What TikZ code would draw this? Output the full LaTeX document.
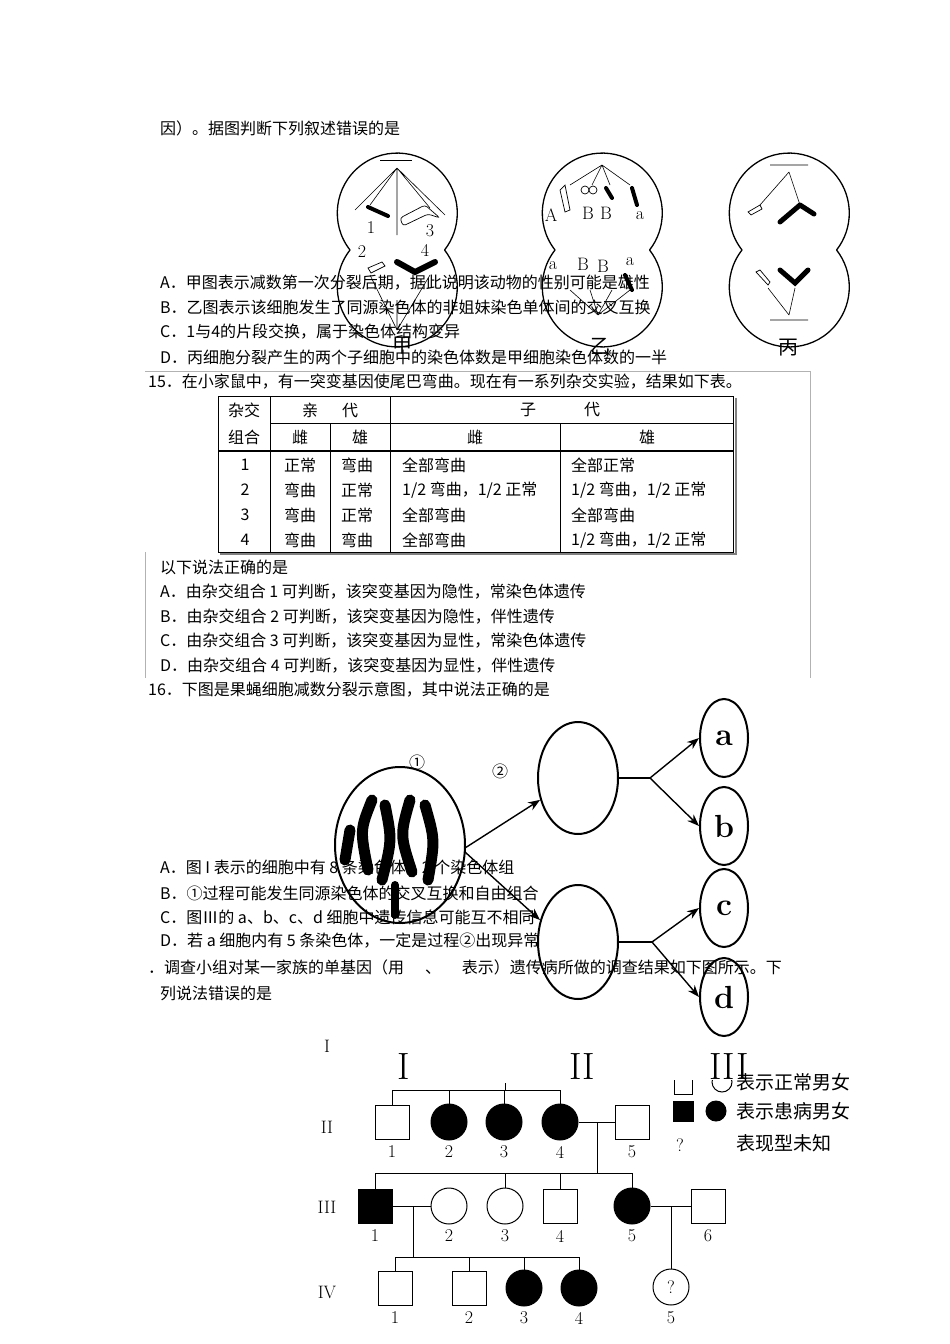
\documentclass[tikz,border=0pt]{standalone}
\usepackage{fontspec}
\setmainfont{Noto Sans CJK SC}
\newfontfamily\lmr{Latin Modern Roman}
\usetikzlibrary{arrows.meta,shapes.geometric}
\begin{document}
\begin{tikzpicture}[x=1pt,y=-1pt,
  txt/.style={anchor=west,inner sep=0pt,font=\fontsize{16}{16}\selectfont},
  ctxt/.style={inner sep=0pt,font=\fontsize{16}{16}\selectfont},
  cellline/.style={line width=1.3pt},
  spin/.style={line width=0.6pt},
  chb/.style={line width=4pt,line cap=round},
  chw/.style={draw,line width=0.7pt,fill=white},
  arr/.style={line width=1.4pt,-{Stealth[length=12pt,width=9pt]}},
  pl/.style={line width=1pt},
  msq/.style={draw,line width=1pt,minimum size=34pt,inner sep=0pt},
  fsq/.style={msq,fill=black},
  fem/.style={draw,line width=1pt,circle,minimum size=36pt,inner sep=0pt},
  aff/.style={fem,fill=black},
  num/.style={inner sep=0pt,font=\lmr\fontsize{18}{18}\selectfont},
  lgt/.style={anchor=west,inner sep=0pt,font=\fontsize{19}{19}\selectfont},
  bigl/.style={draw,line width=2pt,ellipse,inner sep=0pt}]
\useasboundingbox (0,0) rectangle (950,1344);
\fill[white] (0,0) rectangle (950,1344);

% ---------- top text
\node[txt] (t0) at (160,128) {因）。据图判断下列叙述错误的是};

% ---------- cells
\foreach \cx in {397,602,789}{
  \draw[cellline] (\cx-47,250) arc[start angle=218,end angle=-38,radius=60];
  \draw[cellline] (\cx-47,250) arc[start angle=142,end angle=398,radius=60];
}
% jia
\draw[spin] (397,168) -- (397,235) (397,168) -- (370,205) (397,168) -- (430,208) (397,168)--(355,210)(397,168)--(445,215);
\draw[spin] (380,160)--(412,160);
\draw[chb] (368,207)--(388,216);
\draw[chw,rounded corners=3pt] (400,218)--(425,205)--(440,218)--(428,214)--(403,226)--cycle;
\draw[chb,line width=6pt] (397,262)--(415,272)--(435,262);
\draw[chw] (368,268)--(382,262)--(385,266)--(371,273)--cycle;
\draw[spin] (397,300)--(397,330) (397,330)--(370,275) (397,330)--(430,275);
\node[num] (n1) at (371,228) {1};
\node[num] (n3) at (430,231) {3};
\node[num] (n2) at (362,252) {2};
\node[num] (n4) at (425,250) {4};
\node[ctxt,font=\fontsize{20}{20}\selectfont] (ljia) at (402,346) {甲};
% yi
\draw[spin] (602,165)--(570,185) (602,165)--(592,185) (602,165)--(610,185) (602,165)--(630,185);
\draw[chw] (565,185)--(570,210)--(565,212)--(560,190)--cycle;
\draw[chw] (585,190) circle (4);\draw[chw] (593,190) circle (4);
\draw[chb] (606,188)--(612,198);\draw[chb] (632,188)--(637,205);
\node[num] (lA) at (551,215) {A};\node[num] (lB1) at (588,213) {B};
\node[num] (lB2) at (606,213) {B};\node[num] (la1) at (640,216) {a};
\node[num] (la2) at (553,266) {a};\node[num] (lB3) at (583,264) {B};
\node[num] (lB4) at (603,266) {B};\node[num] (la3) at (630,262) {a};
\draw[chb] (625,275)--(632,290);
\draw[spin] (598,315)--(570,290) (598,315)--(590,290) (598,315)--(612,290) (598,315)--(630,290);
\node[ctxt,font=\fontsize{20}{20}\selectfont] (lyi) at (600,346) {乙};
% bing
\draw[spin] (789,172)--(760,205) (789,172)--(800,205) (770,165)--(808,165);
\draw[chb,line width=5pt] (800,205)--(780,222) (800,205)--(814,214);
\draw[chw] (760,205)--(748,212)--(751,215)--(762,209)--cycle;
\draw[chb,line width=5pt] (780,270)--(795,283)--(808,270);
\draw[chw] (768,285)--(756,272)--(760,270)--(770,282)--cycle;
\draw[spin] (789,315)--(768,288) (789,315)--(795,288) (770,320)--(808,320);
\node[ctxt,font=\fontsize{20}{20}\selectfont] (lbing) at (788,348) {丙};

\node[txt] (q14a) at (160,283) {A．甲图表示减数第一次分裂后期，据此说明该动物的性别可能是雄性};
\node[txt] (q14b) at (160,307) {B．乙图表示该细胞发生了同源染色体的非姐妹染色单体间的交叉互换};
\node[txt] (q14c) at (160,332) {C．1与4的片段交换，属于染色体结构变异};
\node[txt] (q14d) at (160,357) {D．丙细胞分裂产生的两个子细胞中的染色体数是甲细胞染色体数的一半};

% ---------- question 15
\draw[gray!60,line width=0.6pt] (145,371)--(810,371) (810,371)--(810,678) (145,552)--(145,678);
\node[txt] (q15) at (148,382) {15．在小家鼠中，有一突变基因使尾巴弯曲。现在有一系列杂交实验，结果如下表。};
\draw[line width=0.8pt] (218,396) rectangle (733,552);
\draw[line width=2pt,gray] (736,398)--(736,554)--(220,554);
\draw[line width=0.8pt] (270,396)--(270,552) (390,396)--(390,552) (330,423)--(330,552) (560,423)--(560,552) (270,423)--(733,423);
\draw[line width=1.6pt] (218,451)--(733,451);
\node[ctxt] (h1) at (244,410) {杂交};
\node[ctxt] (h2) at (244,437) {组合};
\node[ctxt] (h3) at (330,410) {亲\hspace{1.5em}代};
\node[ctxt] (h4) at (560,410) {子\hspace{3em}代};
\node[ctxt] (h5) at (300,437) {雌};
\node[ctxt] (h6) at (360,437) {雄};
\node[ctxt] (h7) at (475,437) {雌};
\node[ctxt] (h8) at (647,437) {雄};
\node[ctxt] at (245,465) {1};\node[txt] at (284,465) {正常};\node[txt] at (341,465) {弯曲};
\node[txt] at (402,465) {全部弯曲};\node[txt] at (571,465) {全部正常};
\node[ctxt] at (245,490) {2};\node[txt] at (284,490) {弯曲};\node[txt] at (341,490) {正常};
\node[txt] at (402,490) {1/2 弯曲，1/2 正常};\node[txt] at (571,490) {1/2 弯曲，1/2 正常};
\node[ctxt] at (245,515) {3};\node[txt] at (284,515) {弯曲};\node[txt] at (341,515) {正常};
\node[txt] at (402,515) {全部弯曲};\node[txt] at (571,515) {全部弯曲};
\node[ctxt] at (245,540) {4};\node[txt] at (284,540) {弯曲};\node[txt] at (341,540) {弯曲};
\node[txt] at (402,540) {全部弯曲};\node[txt] at (571,540) {1/2 弯曲，1/2 正常};
\node[txt] (q15z) at (160,567) {以下说法正确的是};
\node[txt] (q15a) at (160,592) {A．由杂交组合 1 可判断，该突变基因为隐性，常染色体遗传};
\node[txt] (q15b) at (160,617) {B．由杂交组合 2 可判断，该突变基因为隐性，伴性遗传};
\node[txt] (q15c) at (160,641) {C．由杂交组合 3 可判断，该突变基因为显性，常染色体遗传};
\node[txt] (q15d) at (160,666) {D．由杂交组合 4 可判断，该突变基因为显性，伴性遗传};

% ---------- question 16
\node[txt] (q16) at (148,690) {16．下图是果蝇细胞减数分裂示意图，其中说法正确的是};
\node[bigl,minimum width=130pt,minimum height=156pt] (big) at (400,845) {};
\draw[line width=11pt,line cap=round] (372,800)..controls(360,830)..(368,870);
\draw[line width=11pt,line cap=round] (385,805)..controls(392,840)..(382,880);
\draw[line width=11pt,line cap=round] (410,800)..controls(400,835)..(412,872);
\draw[line width=11pt,line cap=round] (425,805)..controls(435,840)..(428,880);
\draw[line width=11pt,line cap=round] (350,830)--(345,860);
\draw[line width=8pt,line cap=round] (395,885)--(395,915);
\node[ctxt,font=\fontsize{16}{16}\selectfont] (c1) at (417,762) {①};
\node[ctxt,font=\fontsize{16}{16}\selectfont] (c2) at (500,771) {②};
\node[bigl,minimum width=80pt,minimum height=112pt] (m1) at (578,778) {};
\node[bigl,minimum width=80pt,minimum height=114pt] (m2) at (578,942) {};
\foreach \n/\y in {a/738,b/826,c/908,d/997}{
  \node[bigl,minimum width=48pt,minimum height=78pt,font=\lmr\bfseries\fontsize{32}{32}\selectfont] (\n) at (724,\y) {\n};
}
\coordinate (j1) at (650,778);
\coordinate (j2) at (652,942);
\draw[arr] (465,848) -- (m1.210);
\draw[arr] (465,852) -- (m2.150);
\draw[line width=1.4pt] (m1.east)--(j1);
\draw[line width=1.4pt] (m2.east)--(j2);
\draw[arr] (j1)--(a.west);
\draw[arr] (j1)--(b.west);
\draw[arr] (j2)--(c.west);
\draw[arr] (j2)--(d.west);

\node[txt] (q16a) at (160,868) {A．图 I 表示的细胞中有 8 条染色体，2 个染色体组};
\node[txt] (q16b) at (160,893) {B．①过程可能发生同源染色体的交叉互换和自由组合};
\node[txt] (q16c) at (160,917) {C．图Ⅲ的 a、b、c、d 细胞中遗传信息可能互不相同};
\node[txt] (q16d) at (160,941) {D．若 a 细胞内有 5 条染色体，一定是过程②出现异常};
\node[txt] (q17) at (148,967) {．调查小组对某一家族的单基因（用\hspace{1.3em}、\hspace{1.3em}表示）遗传病所做的调查结果如下图所示。下};
\node[txt] (q17b) at (160,993) {列说法错误的是};

% ---------- pedigree
\node[num] (g1) at (327,1046) {I};
\node[num] (g2) at (327,1127) {II};
\node[num] (g3) at (327,1207) {III};
\node[num] (g4) at (327,1292) {IV};
% legend
\node[msq,minimum size=18pt] (lg1) at (683,1085) {};
\node[fem,minimum size=20pt] (lg2) at (722,1082) {};
\fill[white] (672,1066) rectangle (735,1080);
\node[lgt] (lg3) at (736,1082) {表示正常男女};
\node[fsq,minimum size=20pt] (lg4) at (683,1111) {};
\node[aff,minimum size=20pt] (lg5) at (716,1111) {};
\node[lgt] (lg6) at (736,1111) {表示患病男女};
\node[num] (lg7) at (680,1145) {?};
\node[lgt] (lg8) at (736,1143) {表现型未知};
\node[num,font=\lmr\fontsize{38}{38}\selectfont] (R1) at (404,1067) {I};
\node[num,font=\lmr\fontsize{38}{38}\selectfont] (R2) at (582,1067) {II};
\node[num,font=\lmr\fontsize{38}{38}\selectfont] (R3) at (729,1067) {III};
% generation II
\node[msq] (p21) at (392,1122) {};
\node[aff] (p22) at (449,1122) {};
\node[aff] (p23) at (504,1122) {};
\node[aff] (p24) at (560,1122) {};
\node[msq] (p25) at (632,1122) {};
\coordinate (s1) at (505,1083);
\draw[pl] (s1) -- (505,1090);
\draw[pl] (p22.north) -- (449,1090);
\draw[pl] (p23.north) -- (504,1090);
\draw[pl] (p21.north) -- (392,1090) -- (560,1090) -- (p24.north);
\draw[pl] (p24.east) -- (p25.west);
% generation III
\node[fsq] (p31) at (375,1206) {};
\node[fem] (p32) at (449,1206) {};
\node[fem] (p33) at (505,1206) {};
\node[msq] (p34) at (560,1206) {};
\node[aff] (p35) at (632,1206) {};
\node[msq] (p36) at (708,1206) {};
\coordinate (m23) at (597,1122);
\coordinate (s3) at (597,1173);
\draw[pl] (m23) -- (s3);
\draw[pl] (p31.north) |- (s3) -| (p35.north);
\draw[pl] (505,1173) -- (p33.north) (560,1173) -- (p34.north);
\draw[pl] (p31.east) -- (p32.west);
\draw[pl] (p35.east) -- (p36.west);
% generation IV
\node[msq] (p41) at (395,1288) {};
\node[msq] (p42) at (469,1288) {};
\node[aff] (p43) at (524,1288) {};
\node[aff] (p44) at (579,1288) {};
\node[fem,font=\lmr\fontsize{18}{18}\selectfont] (p45) at (671,1287) {?};
\coordinate (m34) at (413,1206);
\coordinate (s4) at (413,1257);
\draw[pl] (m34) -- (s4);
\draw[pl] (p41.north) |- (s4) -| (p44.north);
\draw[pl] (469,1257) -- (p42.north) (524,1257) -- (p43.north);
\draw[pl] (671,1206) -- (p45.north);
% numbers
\foreach \x/\t in {392/1,449/2,504/3,560/4,632/5}{\node[num] at (\x,1152) {\t};}
\foreach \x/\t in {375/1,449/2,505/3,560/4,632/5,708/6}{\node[num] at (\x,1236) {\t};}
\foreach \x/\t in {395/1,469/2,524/3,579/4,671/5}{\node[num] at (\x,1318) {\t};}
\end{tikzpicture}
\end{document}
